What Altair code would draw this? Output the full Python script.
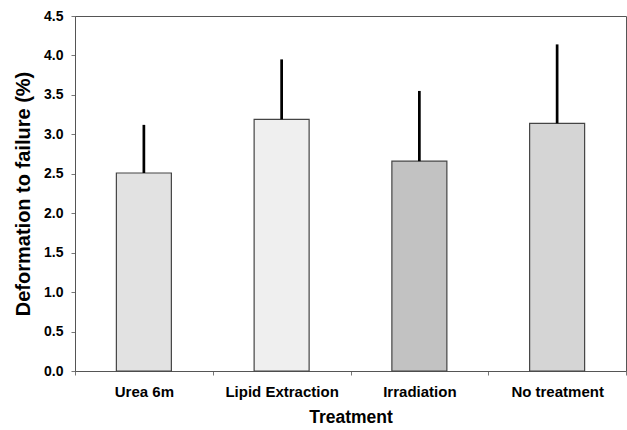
import altair as alt
import pandas as pd

# Treatment groups and measured deformation to failure (%)
treatments = ["Urea 6m", "Lipid Extraction", "Irradiation", "No treatment"]
mean_strain = [2.51, 3.19, 2.66, 3.14]
sd_strain = [0.61, 0.76, 0.89, 1.00]
bar_fills = ["#e2e2e2", "#efefef", "#c2c2c2", "#d5d5d5"]
y_ticks = [0, 0.5, 1, 1.5, 2, 2.5, 3, 3.5, 4, 4.5]

df = pd.DataFrame({
    "Treatment": treatments,
    "mean": mean_strain,
    "upper": [m + s for m, s in zip(mean_strain, sd_strain)],
    "fill": bar_fills,
})

font = "Liberation Sans"

x_axis = alt.Axis(
    labelAngle=0, labelFont=font, labelFontSize=15, labelFontWeight="bold",
    labelColor="black", titleFont=font, titleFontSize=17.5, titleFontWeight="bold",
    titleColor="black", tickBand="extent", tickSize=4, tickColor="#777",
    domainColor="#555", labelPadding=9, titlePadding=9,
)
x_scale = alt.Scale(paddingInner=0, paddingOuter=0)

y_scale = alt.Scale(domain=[0, 4.5], nice=False)
y_axis = alt.Axis(
    values=y_ticks, format=".1f",
    labelFont=font, labelFontSize=14, labelFontWeight="bold", labelColor="black",
    labelOverlap=False, labelFlush=False,
    titleFont=font, titleFontSize=20, titleFontWeight="bold", titleColor="black",
    tickSize=4, tickColor="#777", domainColor="#555", labelPadding=8,
    titlePadding=10, grid=False,
)

x_enc = alt.X("Treatment:N", sort=treatments, title="Treatment", scale=x_scale, axis=x_axis)
y_title = "Deformation to failure (%)"

bars = alt.Chart(df).mark_bar(size=55, stroke="#444", strokeWidth=1.2).encode(
    x=x_enc,
    y=alt.Y("mean:Q", scale=y_scale, axis=y_axis, title=y_title),
    fill=alt.Fill("fill:N", scale=None),
)

# upward-only error bars (mean to mean + SD)
errs = alt.Chart(df).mark_rule(color="black", strokeWidth=2.7).encode(
    x=x_enc,
    y=alt.Y("mean:Q", scale=y_scale, axis=y_axis, title=y_title),
    y2="upper:Q",
)

chart = alt.layer(bars, errs).properties(
    width=551, height=355,
    autosize=alt.AutoSizeParams(type="none"),
    padding={"left": 75, "top": 16, "right": 1, "bottom": 59},
    background="white",
).configure_view(stroke="#555", strokeWidth=1)

chart.save("out.html", embed_options={"renderer": "svg", "actions": False})
